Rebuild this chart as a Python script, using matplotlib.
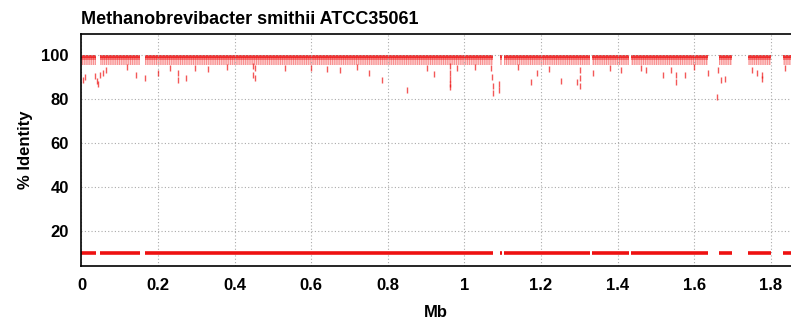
import matplotlib
matplotlib.use("Agg")
import matplotlib.pyplot as plt

plt.rcParams['font.family'] = ['Liberation Sans', 'DejaVu Sans']
plt.rcParams['font.weight'] = 'bold'
plt.rcParams['hatch.linewidth'] = 0.8

# genome covered by reads (Mb)
seg_start = [0.000, 0.048, 0.166, 1.094, 1.103, 1.332, 1.434, 1.665, 1.740, 1.831]
seg_end   = [0.038, 0.153, 1.076, 1.097, 1.328, 1.430, 1.636, 1.700, 1.802, 1.853]

# reads falling below the main band (Mb, % identity)
dip_x = [0.004, 0.010, 0.036, 0.040, 0.042, 0.048, 0.056, 0.064, 0.143, 0.165,
         0.200, 0.252, 0.252, 0.274, 0.296, 0.449, 0.449, 0.454, 0.454, 0.532,
         0.676, 0.750, 0.785, 0.850, 0.902, 0.921, 0.962, 0.962, 0.962, 0.962,
         0.962, 1.027, 1.070, 1.072, 1.074, 1.075, 1.091, 1.091, 1.173, 1.190,
         1.252, 1.295, 1.303, 1.303, 1.303, 1.335, 1.462, 1.475, 1.518, 1.540,
         1.553, 1.553, 1.575, 1.636, 1.660, 1.663, 1.671, 1.680, 1.763, 1.776,
         1.776, 1.837, 0.120, 0.230, 0.330, 0.380, 0.600, 0.640, 0.720, 0.980,
         1.140, 1.220, 1.380, 1.410, 1.600, 1.750]
dip_y = [88.8, 89.8, 90.5, 88.0, 87.0, 91.0, 92.0, 93.0, 91.0, 89.5,
         92.0, 88.8, 92.0, 89.5, 94.0, 91.0, 95.0, 89.5, 94.0, 94.0,
         93.0, 92.0, 88.8, 84.3, 94.0, 91.4, 95.0, 92.0, 89.0, 87.0,
         85.5, 94.5, 94.0, 90.0, 86.0, 82.7, 87.0, 84.0, 87.5, 92.0,
         88.0, 87.5, 86.0, 89.5, 93.0, 92.0, 94.0, 93.0, 91.0, 93.0,
         87.5, 91.0, 91.0, 92.0, 81.0, 93.0, 88.5, 89.0, 92.0, 89.0,
         91.0, 94.0, 94.5, 94.0, 93.5, 94.5, 94.0, 93.5, 94.5, 94.0,
         94.5, 93.5, 94.0, 93.0, 94.5, 93.0]

red = '#ee1111'

fig = plt.figure(figsize=(7.91, 3.22), dpi=100)
ax = fig.add_axes([0.103, 0.174, 0.897, 0.72])

for s, e in zip(seg_start, seg_end):
    ax.fill_between([s, e], 95.5, 99.0, facecolor=(1, 0.6, 0.6, 0.25),
                    edgecolor=(0.93, 0.07, 0.07, 0.4), hatch='|||||||||', lw=0)
    ax.fill_between([s, e], 97.8, 100.2, facecolor=red, alpha=0.45, lw=0)
    ax.fill_between([s, e], 98.8, 100.2, facecolor=red, alpha=0.7, lw=0)
ax.hlines([10] * len(seg_start), seg_start, seg_end, color=red, lw=2.6)
ax.plot(dip_x, dip_y, ls='none', marker='|', ms=4, mew=1.0, color=red, alpha=0.7)

ax.set_xlim(0, 1.853)
ax.set_ylim(4, 109.5)
ax.set_xticks([0, 0.2, 0.4, 0.6, 0.8, 1, 1.2, 1.4, 1.6, 1.8])
ax.set_xticklabels(['0', '0.2', '0.4', '0.6', '0.8', '1', '1.2', '1.4', '1.6', '1.8'])
ax.set_yticks([20, 40, 60, 80, 100])
ax.tick_params(length=0, labelsize=12, pad=9)
ax.grid(True, color='#aaaaaa', ls=(0, (1, 2)), lw=0.8)
ax.spines['right'].set_visible(False)
for sp in ['left', 'top', 'bottom']:
    ax.spines[sp].set_linewidth(1.2)

ax.set_xlabel('Mb', fontsize=12, fontweight='bold', labelpad=8)
ax.set_ylabel('% Identity', fontsize=12, fontweight='bold', labelpad=6)
ax.set_title('Methanobrevibacter smithii ATCC35061', fontsize=13, fontweight='bold',
             loc='left', pad=7)

fig.savefig('out.png', dpi=100)
